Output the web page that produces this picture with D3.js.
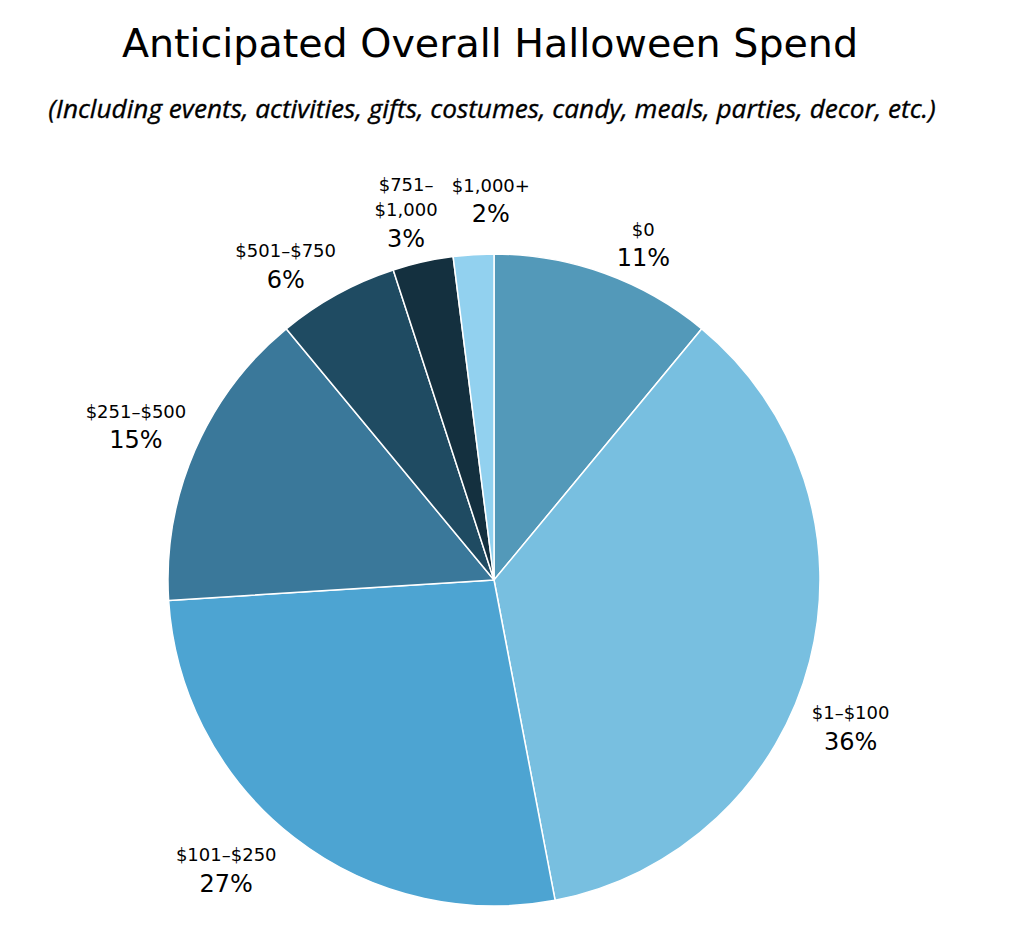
<!DOCTYPE html>
<html>
<head>
<meta charset="utf-8">
<script src="https://cdn.jsdelivr.net/npm/d3@7"></script>
<style>
  html, body { margin: 0; padding: 0; background: #fff; }
  svg { display: block; }
</style>
</head>
<body>
<svg id="chart" width="1014" height="938"></svg>
<script>
const categories = ["$0", "$1–$100", "$101–$250", "$251–$500", "$501–$750", "$751–$1,000", "$1,000+"];
const labelLines = [["$0"], ["$1–$100"], ["$101–$250"], ["$251–$500"], ["$501–$750"], ["$751–", "$1,000"], ["$1,000+"]];
const values = [11, 36, 27, 15, 6, 3, 2];
const colors = ["#5399b9", "#78bfe0", "#4da4d2", "#3a789a", "#1f4b62", "#14303f", "#92d1ef"];

const title = "Anticipated Overall Halloween Spend";
const subtitle = "(Including events, activities, gifts, costumes, candy, meals, parties, decor, etc.)";

// layout-only nudges for label placement (px), not data
const labelNudge = [[19, 24], [-16, 50], [-32, -16], [-5, -3], [-23, 21], [-4, 18], [21, 2]];

const svg = d3.select("#chart");
const cx = 494, cy = 580, r = 326;

svg.append("text")
  .attr("x", 490).attr("y", 57)
  .attr("text-anchor", "middle")
  .attr("font-family", "'DejaVu Sans', sans-serif")
  .attr("font-size", 39.6)
  .attr("fill", "#000")
  .text(title);

svg.append("text")
  .attr("x", 492).attr("y", 118)
  .attr("text-anchor", "middle")
  .attr("font-family", "'Open Sans', sans-serif")
  .attr("font-style", "italic")
  .attr("font-weight", 500)
  .attr("font-size", 26.2)
  .attr("fill", "#000")
  .attr("stroke", "#000")
  .attr("stroke-width", 0.35)
  .text(subtitle);

const data = categories.map((c, i) => ({ cat: c, lines: labelLines[i], value: values[i], color: colors[i], nudge: labelNudge[i] }));

const pie = d3.pie().value(d => d.value).sort(null);
const arcs = pie(data);
const arc = d3.arc().innerRadius(0).outerRadius(r);
const labelArc = d3.arc().innerRadius(r * 1.18).outerRadius(r * 1.18);

const g = svg.append("g").attr("transform", `translate(${cx},${cy})`);

g.selectAll("path.slice")
  .data(arcs)
  .join("path")
  .attr("class", "slice")
  .attr("d", arc)
  .attr("fill", d => d.data.color)
  .attr("stroke", "#fff")
  .attr("stroke-width", 1.5)
  .attr("stroke-linejoin", "round");

const lab = g.selectAll("g.label")
  .data(arcs)
  .join("g")
  .attr("class", "label")
  .attr("transform", d => {
    const [x, y] = labelArc.centroid(d);
    return `translate(${x + d.data.nudge[0]},${y + d.data.nudge[1]})`;
  });

lab.each(function(d) {
  const sel = d3.select(this);
  const n = d.data.lines.length;
  const pctBase = 24.2;
  d.data.lines.forEach((ln, i) => {
    sel.append("text")
      .attr("text-anchor", "middle")
      .attr("y", pctBase - 30.7 - (n - 1 - i) * 25)
      .attr("font-family", "'DejaVu Sans', sans-serif")
      .attr("font-size", 18)
      .attr("fill", "#000")
      .text(ln);
  });
  sel.append("text")
    .attr("text-anchor", "middle")
    .attr("y", pctBase)
    .attr("font-family", "'DejaVu Sans', sans-serif")
    .attr("font-size", 24)
    .attr("fill", "#000")
    .text(d.data.value + "%");
});
</script>
</body>
</html>
